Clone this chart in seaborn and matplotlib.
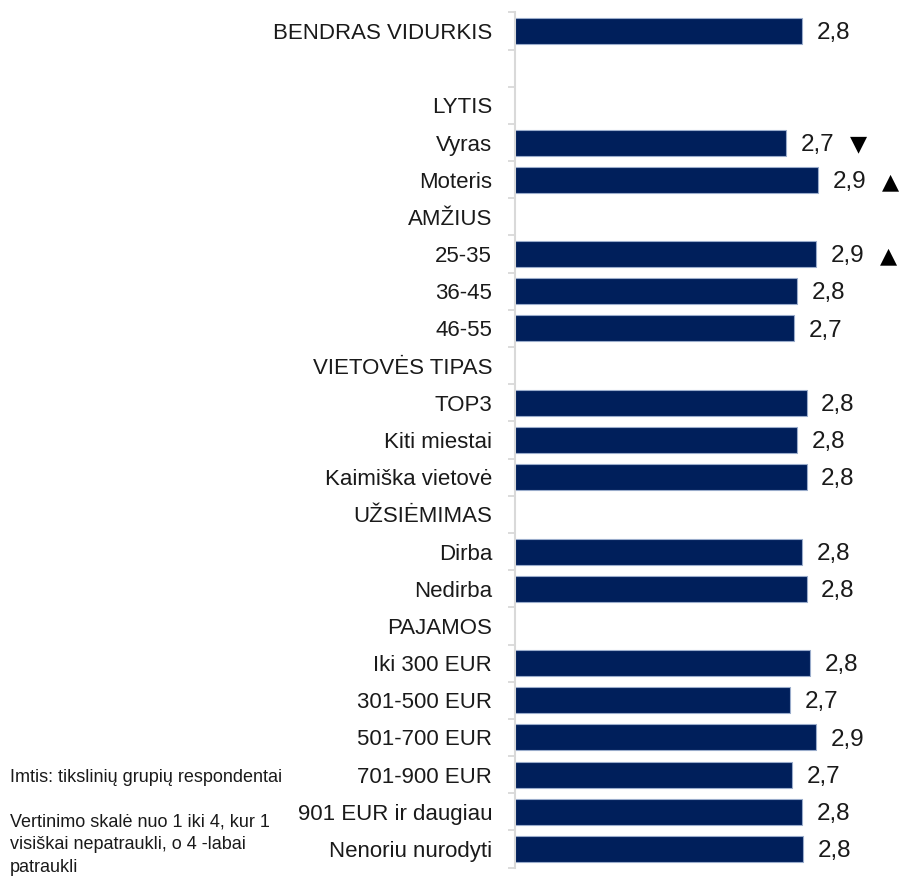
import numpy as np
import pandas as pd
import matplotlib
import seaborn as sns
import matplotlib.pyplot as plt

matplotlib.use('Agg')

# Rows of the chart (header rows have no bar)
categories = [
    "BENDRAS VIDURKIS", " ", "LYTIS", "Vyras", "Moteris", "AMŽIUS",
    "25-35", "36-45", "46-55", "VIETOVĖS TIPAS", "TOP3", "Kiti miestai",
    "Kaimiška vietovė", "UŽSIĖMIMAS", "Dirba", "Nedirba", "PAJAMOS",
    "Iki 300 EUR", "301-500 EUR", "501-700 EUR", "701-900 EUR",
    "901 EUR ir daugiau", "Nenoriu nurodyti",
]
scores = [
    2.79, np.nan, np.nan, 2.69, 2.89, np.nan,
    2.88, 2.76, 2.74, np.nan, 2.82, 2.76,
    2.82, np.nan, 2.79, 2.82, np.nan,
    2.84, 2.72, 2.88, 2.73,
    2.79, 2.80,
]
# significance markers: -1 lower, +1 higher, 0 none
signif = [0, 0, 0, -1, 1, 0, 1, 0, 0, 0, 0, 0, 0, 0, 0, 0, 0, 0, 0, 0, 0, 0, 0]

note_sample = "Imtis: tikslinių grupių respondentai"
note_scale = "Vertinimo skalė nuo 1 iki 4, kur 1\nvisiškai nepatraukli, o 4 -labai\npatraukli"

df = pd.DataFrame({"category": categories, "score": scores})

sns.set_style("white")
plt.rcParams['font.family'] = ['Liberation Sans', 'DejaVu Sans']

fig = plt.figure(figsize=(9.01, 8.8), dpi=100)
ax = fig.add_axes([0.5716, 0.0141, 0.4284, 0.9718])

sns.barplot(data=df, y="category", x="score", order=categories, orient="h",
            color="#001f5b", saturation=1, width=0.7, edgecolor="#9aaccb",
            linewidth=0.8, ax=ax)

ax.set_xlim(1, 3.41)
ax.set_ylim(len(categories) - 0.5, -0.5)

# value labels, plus arrows for significant differences
for i, (v, s) in enumerate(zip(scores, signif)):
    if np.isnan(v):
        continue
    txt = f"{v:.1f}".replace(".", ",")
    ax.annotate(txt, xy=(v, i), xytext=(10.5, -1.5), textcoords="offset points",
                ha="left", va="center", fontsize=17.5, color="#1a1a1a")
    if s != 0:
        arrow = "▼" if s < 0 else "▲"
        ax.annotate(arrow, xy=(v, i), xytext=(46, -1.5), textcoords="offset points",
                    ha="left", va="center", fontsize=16, color="#000000",
                    family="DejaVu Sans")

ax.set_xlabel("")
ax.set_ylabel("")
ax.set_xticks([])
ax.set_yticks(range(len(categories)))
ax.set_yticklabels([c.strip() for c in categories], fontsize=16, color="#1a1a1a")
ax.tick_params(axis="y", which="major", left=False, length=0, pad=16.5)
ax.set_yticks(np.arange(-0.5, len(categories), 1.0), minor=True)
ax.tick_params(axis="y", which="minor", left=True, length=5, width=1.3,
               color="#d9d9d9")

for side in ["top", "right", "bottom"]:
    ax.spines[side].set_visible(False)
ax.spines["left"].set_color("#d9d9d9")
ax.spines["left"].set_linewidth(1.5)

fig.text(10 / 901, 1 - 778 / 880, note_sample, fontsize=13, ha="left",
         va="center", color="#1a1a1a")
fig.text(10 / 901, 1 - 813 / 880, note_scale, fontsize=13, ha="left",
         va="top", color="#1a1a1a", linespacing=1.45)

fig.savefig("out.png", dpi=100)
